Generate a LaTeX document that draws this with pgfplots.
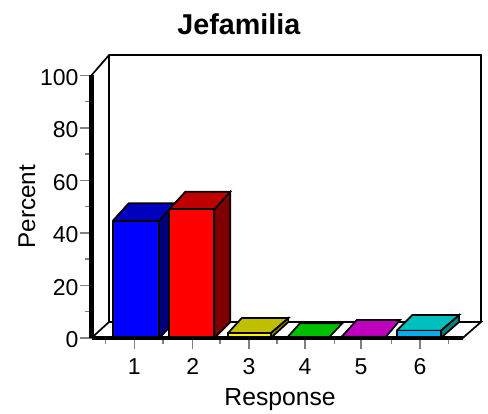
\documentclass[border=0pt]{standalone}
\usepackage{fontspec}
\setmainfont{Liberation Sans}
\usepackage{pgfplots}
\pgfplotsset{compat=1.18}
\definecolor{tickgrey}{HTML}{808080}
\definecolor{bluetop}{HTML}{0000BF}\definecolor{blueside}{HTML}{00007F}
\definecolor{redtop}{HTML}{BF0000}\definecolor{redside}{HTML}{7F0000}
\definecolor{yellowtop}{HTML}{BFBF00}\definecolor{yellowside}{HTML}{7F7F00}
\definecolor{greentop}{HTML}{00BF00}
\definecolor{magentatop}{HTML}{BF00BF}
\definecolor{cyantop}{HTML}{00BFBF}\definecolor{cyanside}{HTML}{007F7F}
\tikzset{face/.style={draw=black,line width=1.7pt,line join=miter,fill=#1}}
\begin{document}
\begin{tikzpicture}
\useasboundingbox (0,0) rectangle (488pt,413pt);
\begin{axis}[
	at={(91.5pt,75pt)},
	anchor=south west,
	scale only axis,
	width=371.2pt, height=262.7pt,
	xmin=0.25, xmax=6.75,
	ymin=0, ymax=100,
	clip=false,
	axis lines=left,
	x axis line style={-,line width=3.6pt,black},
	y axis line style={-,line width=4.4pt,black},
	axis on top,
	xtick={1,2.023,3.009,3.99,4.97,6.003},
	xticklabels={1,2,3,4,5,6},
	minor xtick={0.5,1.5,2.5,3.5,4.5,5.5,6.5},
	ytick={0,20,40,60,80,100},
	minor ytick={10,30,50,70,90},
	tick align=outside,
	major tick length=11pt,
	minor tick length=6pt,
	tick style={tickgrey,line width=1.4pt},
	tick label style={font=\fontsize{23}{23}\selectfont},
	xticklabel style={yshift=-6pt},
	yticklabel style={yshift=-2pt,xshift=1.5pt},
	/pgf/number format/assume math mode=true,
	title={\bfseries Jefamilia},
	title style={font=\fontsize{28.7}{28.7}\selectfont,at={(axis description cs:0.397,1.172)},anchor=center},
	xlabel={Response},
	xlabel style={font=\fontsize{24.7}{24.7}\selectfont,at={(axis description cs:0.508,-0.235)},anchor=center},
	ylabel={Percent},
	ylabel style={font=\fontsize{24.2}{24.2}\selectfont,at={(axis description cs:-0.174,0.5)},anchor=center},
]
% back wall, side wall edge, floor
\addplot[draw=black,line width=1.7pt] coordinates {(0.25,100)(0.557,107.7)(7.071,107.7)(7.071,6.09)};
\addplot[draw=black,line width=1.7pt] coordinates {(0.557,107.7)(0.557,6.09)};
\addplot[face=white] coordinates {(0.25,0)(0.557,6.09)(7.071,6.09)(6.75,0)(0.25,0)};

% 1: 44.6
\addplot[face=blueside] coordinates {(1.433,0)(1.713,6.1)(1.713,51.3)(1.433,44.6)(1.433,0)};
\addplot[face=bluetop] coordinates {(0.622,44.6)(0.902,51.3)(1.713,51.3)(1.433,44.6)(0.622,44.6)};
\addplot[face=blue] coordinates {(0.622,0)(0.622,44.6)(1.433,44.6)(1.433,0)(0.622,0)};
% 2: 49
\addplot[face=redside] coordinates {(2.401,0)(2.681,6.1)(2.681,55.7)(2.401,49)(2.401,0)};
\addplot[face=redtop] coordinates {(1.613,49)(1.893,55.7)(2.681,55.7)(2.401,49)(1.613,49)};
\addplot[face=red] coordinates {(1.613,0)(1.613,49)(2.401,49)(2.401,0)(1.613,0)};
% 3: 1.9
\addplot[face=yellowside] coordinates {(3.39,0)(3.697,6.1)(3.697,7.6)(3.39,1.9)(3.39,0)};
\addplot[face=yellowtop] coordinates {(2.641,1.9)(2.881,7.6)(3.697,7.6)(3.39,1.9)(2.641,1.9)};
\addplot[face=yellow] coordinates {(2.641,0)(2.641,1.9)(3.39,1.9)(3.39,0)(2.641,0)};
% 4: 0
\addplot[face=greentop] coordinates {(3.669,0)(3.9,5.6)(4.643,5.6)(4.398,0)(3.669,0)};
% 5: 0.5
\addplot[face=magentatop] coordinates {(4.632,0.5)(4.895,6.85)(5.653,6.85)(5.408,0.5)(4.632,0.5)};
% 6: 2.8
\addplot[face=cyanside] coordinates {(6.366,0)(6.687,6.1)(6.687,8.75)(6.366,2.8)(6.366,0)};
\addplot[face=cyantop] coordinates {(5.595,2.8)(5.868,8.75)(6.687,8.75)(6.366,2.8)(5.595,2.8)};
\addplot[face=cyan] coordinates {(5.595,0)(5.595,2.8)(6.366,2.8)(6.366,0)(5.595,0)};
\end{axis}
\end{tikzpicture}
\end{document}
